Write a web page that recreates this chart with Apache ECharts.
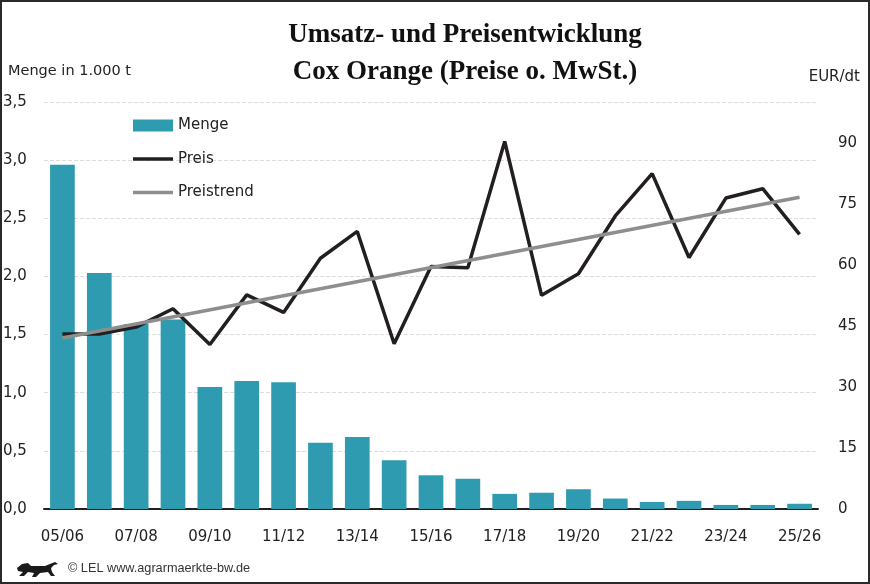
<!DOCTYPE html>
<html>
<head>
<meta charset="utf-8">
<script src="https://cdn.jsdelivr.net/npm/echarts@6/dist/echarts.min.js"></script>
<style>
  html, body { margin: 0; padding: 0; background: #fff; }
  #main { width: 870px; height: 584px; }
</style>
</head>
<body>
<div id="main"></div>
<script>
// Jahre (Wirtschaftsjahre)
var seasons = ['05/06', '06/07', '07/08', '08/09', '09/10', '10/11', '11/12', '12/13', '13/14', '14/15',
  '15/16', '16/17', '17/18', '18/19', '19/20', '20/21', '21/22', '22/23', '23/24', '24/25', '25/26'];

// Menge in 1.000 t
var menge = [2.96, 2.03, 1.59, 1.63, 1.05, 1.10, 1.09, 0.57, 0.62, 0.42,
  0.29, 0.26, 0.13, 0.14, 0.17, 0.09, 0.06, 0.07, 0.035, 0.035, 0.045];

// Preis EUR/dt
var preis = [43.0, 43.0, 44.7, 49.2, 40.4, 52.6, 48.3, 61.6, 68.2, 40.6,
  59.6, 59.3, 90.3, 52.5, 57.8, 72.0, 82.4, 61.8, 76.4, 78.7, 67.5];

// Preistrend (nur Anfangs- und Endpunkt, dazwischen verbunden)
var preistrend = [42.0, null, null, null, null, null, null, null, null, null,
  null, null, null, null, null, null, null, null, null, null, 76.6];

var leftTicks = { min: 0, max: 3.5, step: 0.5 };
var rightTicks = { min: 0, max: 100, step: 15 };

var font = 'DejaVu Sans';
var lineIcon = 'path://M0,0H40V3.5H0Z';
var myChart = echarts.init(document.getElementById('main'));

var option = {
  animation: false,
  title: {
    text: 'Umsatz- und Preisentwicklung\nCox Orange (Preise o. MwSt.)',
    left: 465,
    top: 17,
    padding: 0,
    textAlign: 'center',
    textStyle: {
      fontFamily: 'Liberation Serif',
      fontWeight: 'bold',
      fontSize: 27,
      lineHeight: 37,
      color: '#111'
    }
  },
  graphic: [
    { type: 'text', left: 8, top: 64, style: { text: 'Menge in 1.000 t', font: '14.5px ' + font, fill: '#222' } },
    { type: 'text', right: 10, top: 70, style: { text: 'EUR/dt', font: '15px ' + font, fill: '#222' } },
    { type: 'text', left: 68, top: 562, style: { text: '\u00a9 LEL www.agrarmaerkte-bw.de', font: '12.7px Liberation Sans', fill: '#333' } },
    // Landeswappen (vereinfacht)
    {
      type: 'polygon', z: 10,
      shape: {
        points: [[17, 568], [22, 564], [28, 563], [31, 566], [45, 566], [50, 564], [55, 562], [58, 564],
          [54, 565], [51, 568], [52, 572], [55, 576], [51, 576], [48, 572], [40, 573], [36, 577],
          [32, 577], [34, 573], [28, 572], [24, 576], [19, 576], [23, 572], [18, 571]]
      },
      style: { fill: '#1a1a1a' }
    },
    // Rahmen
    {
      type: 'rect', z: 100, silent: true,
      shape: { x: 1, y: 1, width: 868, height: 582 },
      style: { fill: 'none', stroke: '#2a2a2a', lineWidth: 2 }
    }
  ],
  legend: {
    orient: 'vertical',
    left: 133,
    top: 118,
    padding: 0,
    itemWidth: 40,
    itemHeight: 12,
    itemGap: 18.5,
    textStyle: { fontFamily: font, fontSize: 15, color: '#222' },
    data: [
      { name: 'Menge', icon: 'rect' },
      { name: 'Preis', icon: lineIcon },
      { name: 'Preistrend', icon: lineIcon }
    ]
  },
  grid: { left: 44, right: 52, top: 102, bottom: 75 },
  xAxis: {
    type: 'category',
    data: seasons,
    boundaryGap: true,
    axisLine: { lineStyle: { color: '#231f20', width: 2 } },
    axisTick: { interval: 0, length: 6, lineStyle: { color: '#231f20', width: 2 } },
    axisLabel: { interval: 1, margin: 21, fontFamily: font, fontSize: 15, color: '#222' }
  },
  yAxis: [
    {
      type: 'value',
      min: leftTicks.min,
      max: leftTicks.max,
      interval: leftTicks.step,
      axisLine: { show: false },
      axisTick: { show: false },
      axisLabel: {
        align: 'left',
        margin: 41,
        fontFamily: font,
        fontSize: 15,
        color: '#222',
        formatter: function (v) { return v.toFixed(1).replace('.', ','); }
      },
      splitLine: { lineStyle: { color: '#dcdcdc', type: 'dashed', width: 1 } }
    },
    {
      type: 'value',
      min: rightTicks.min,
      max: rightTicks.max,
      interval: rightTicks.step,
      axisLine: { show: false },
      axisTick: { show: false },
      splitLine: { show: false },
      axisLabel: {
        align: 'left',
        margin: 20,
        showMaxLabel: false,
        fontFamily: font,
        fontSize: 15,
        color: '#222',
        formatter: function (v) { return v > 90 ? '' : String(v); }
      }
    }
  ],
  series: [
    {
      name: 'Menge',
      type: 'bar',
      data: menge,
      barCategoryGap: '33%',
      itemStyle: { color: '#2f9bb0' }
    },
    {
      name: 'Preis',
      type: 'line',
      yAxisIndex: 1,
      data: preis,
      symbol: 'none',
      showSymbol: false,
      lineStyle: { color: '#231f20', width: 3.5 },
      itemStyle: { color: '#231f20' }
    },
    {
      name: 'Preistrend',
      type: 'line',
      yAxisIndex: 1,
      data: preistrend,
      connectNulls: true,
      symbol: 'none',
      showSymbol: false,
      lineStyle: { color: '#8e8e8e', width: 3.5 },
      itemStyle: { color: '#8e8e8e' }
    }
  ]
};

myChart.setOption(option);
</script>
</body>
</html>
